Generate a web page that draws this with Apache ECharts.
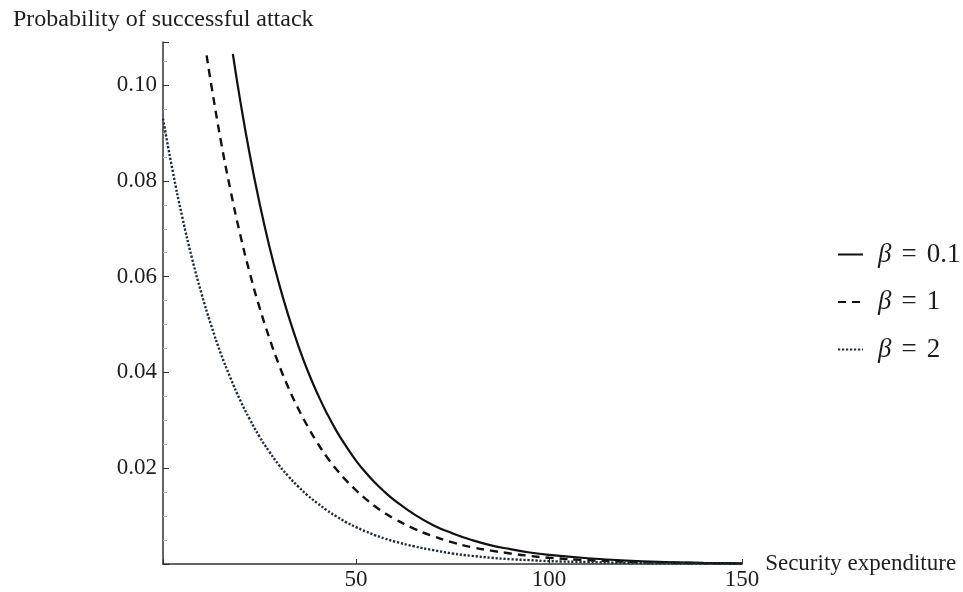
<!DOCTYPE html>
<html>
<head>
<meta charset="utf-8">
<title>Probability of successful attack</title>
<style>
  html, body { margin: 0; padding: 0; background: #fff; }
</style>
</head>
<body>
    <div id="main" style="width: 963px; height: 592px;"></div>

    <script src="https://cdn.jsdelivr.net/npm/echarts@6/dist/echarts.min.js"></script>

    <script type="text/javascript">
        // security expenditure (x) for each curve, and the probability of a successful attack,
        // read off the picture; each curve starts where it enters the plot range
        var x01 = [18.1, 20, 22.5, 25, 27.5, 30, 32.5, 35, 37.5, 40, 42.5, 45, 47.5, 50, 52.5, 55, 57.5,
            60, 65, 70, 75, 80, 85, 90, 95, 100, 110, 120, 130, 140, 150];
        var beta01 = [0.1065, 0.0968, 0.0854, 0.0754, 0.0665, 0.0587, 0.0518, 0.0457, 0.0403, 0.0356,
            0.0314, 0.0277, 0.0245, 0.0216, 0.0191, 0.0169, 0.0150, 0.0133, 0.0104, 0.0081, 0.0064,
            0.0050, 0.0039, 0.0031, 0.0024, 0.0019, 0.0012, 0.0007, 0.0004, 0.00025, 0.00015];

        var x1 = [11.3, 12.5, 15, 17.5, 20, 22.5, 25, 27.5, 30, 32.5, 35, 37.5, 40, 42.5, 45, 47.5, 50,
            52.5, 55, 57.5, 60, 65, 70, 75, 80, 85, 90, 95, 100, 110, 120, 130, 140, 150];
        var beta1 = [0.1062, 0.1001, 0.0883, 0.0780, 0.0688, 0.0607, 0.0536, 0.0473, 0.0417, 0.0368,
            0.0325, 0.0287, 0.0253, 0.0223, 0.0197, 0.0174, 0.0154, 0.0136, 0.0120, 0.0106, 0.0094,
            0.0074, 0.0058, 0.0045, 0.0035, 0.0028, 0.0022, 0.0017, 0.0013, 0.0008, 0.0005, 0.0003,
            0.00018, 0.0001];

        var x2 = [0, 2.5, 5, 7.5, 10, 12.5, 15, 17.5, 20, 22.5, 25, 27.5, 30, 32.5, 35, 37.5, 40, 42.5,
            45, 47.5, 50, 52.5, 55, 57.5, 60, 65, 70, 75, 80, 85, 90, 95, 100, 110, 120, 130, 140, 150];
        var beta2 = [0.0930, 0.0821, 0.0724, 0.0639, 0.0564, 0.0498, 0.0439, 0.0388, 0.0342, 0.0302,
            0.0266, 0.0235, 0.0207, 0.0183, 0.0162, 0.0143, 0.0127, 0.0112, 0.0099, 0.0087, 0.0077,
            0.0068, 0.0060, 0.0053, 0.0047, 0.0037, 0.0029, 0.0022, 0.0017, 0.0013, 0.0010, 0.0008,
            0.0006, 0.0004, 0.00023, 0.00014, 0.00008, 0.00005];

        var betaNames = ['0.1', '1', '2'];

        var serif = 'Liberation Serif';
        var ink = '#1e1e1e';

        function pairs(xs, vals) {
            var out = [];
            for (var i = 0; i < xs.length; i++) {
                out.push([xs[i], vals[i]]);
            }
            return out;
        }

        var myChart = echarts.init(document.getElementById('main'));

        var option = {
            animation: false,
            title: {
                text: 'Probability of successful attack',
                left: 8,
                top: 3,
                textStyle: { fontFamily: serif, fontSize: 24, fontWeight: 'normal', color: ink }
            },
            legend: {
                orient: 'vertical',
                left: 837,
                top: 241,
                padding: 0,
                itemWidth: 25,
                itemHeight: 24,
                itemGap: 20.5,
                data: betaNames.map(function(b) { return 'β = ' + b; }),
                formatter: function(name) {
                    return '{i|β}{e|=}{n|' + name.split('= ')[1] + '}';
                },
                itemStyle: { opacity: 0 },
                textStyle: {
                    fontFamily: serif,
                    fontSize: 27,
                    color: ink,
                    padding: [0, 0, 0, 10],
                    rich: {
                        i: { fontFamily: serif, fontSize: 27, lineHeight: 24, fontStyle: 'italic', color: ink },
                        e: { fontFamily: serif, fontSize: 27, lineHeight: 24, color: ink, padding: [0, 10, 0, 10] },
                        n: { fontFamily: serif, fontSize: 27, lineHeight: 24, color: ink }
                    }
                }
            },
            grid: {
                left: 163,
                top: 42,
                right: 221,
                bottom: 28,
                containLabel: false
            },
            xAxis: {
                type: 'value',
                min: 0,
                max: 150,
                interval: 50,
                name: 'Security expenditure',
                nameLocation: 'end',
                nameGap: 21,
                nameTextStyle: { fontFamily: serif, fontSize: 23, color: ink, verticalAlign: 'middle' },
                axisLine: { lineStyle: { color: '#333', width: 1.5 } },
                axisTick: { inside: true, length: 5, lineStyle: { color: '#333' } },
                axisLabel: {
                    fontFamily: serif, fontSize: 23, color: ink, margin: 4,
                    formatter: function(v) { return v === 0 ? '' : v; }
                },
                splitLine: { show: false }
            },
            yAxis: {
                type: 'value',
                min: 0,
                max: 0.109,
                interval: 0.02,
                axisLine: { lineStyle: { color: '#333', width: 1.5 } },
                axisTick: { inside: true, length: 6, lineStyle: { color: '#333' } },
                minorTick: { show: true, splitNumber: 4, length: 4, lineStyle: { color: '#bbb' } },
                axisLabel: {
                    fontFamily: serif, fontSize: 23, color: ink, margin: 6,
                    showMaxLabel: false,
                    formatter: function(v) { return v === 0 ? '' : v.toFixed(2); }
                },
                splitLine: { show: false }
            },
            series: [{
                name: 'β = ' + betaNames[0],
                type: 'line',
                symbol: 'none',
                smooth: true,
                clip: true,
                lineStyle: { color: '#111', width: 2.2, type: 'solid' },
                itemStyle: { color: 'rgba(0,0,0,0)' },
                data: pairs(x01, beta01)
            }, {
                name: 'β = ' + betaNames[1],
                type: 'line',
                symbol: 'none',
                smooth: true,
                clip: true,
                lineStyle: { color: '#111', width: 2.4, type: [8, 6] },
                itemStyle: { color: 'rgba(0,0,0,0)' },
                data: pairs(x1, beta1)
            }, {
                name: 'β = ' + betaNames[2],
                type: 'line',
                symbol: 'none',
                smooth: true,
                clip: true,
                lineStyle: { color: '#1d2b38', width: 2.4, type: [2.2, 1.8] },
                itemStyle: { color: 'rgba(0,0,0,0)' },
                data: pairs(x2, beta2)
            }]
        };

        myChart.setOption(option);
    </script>
</body>
</html>
